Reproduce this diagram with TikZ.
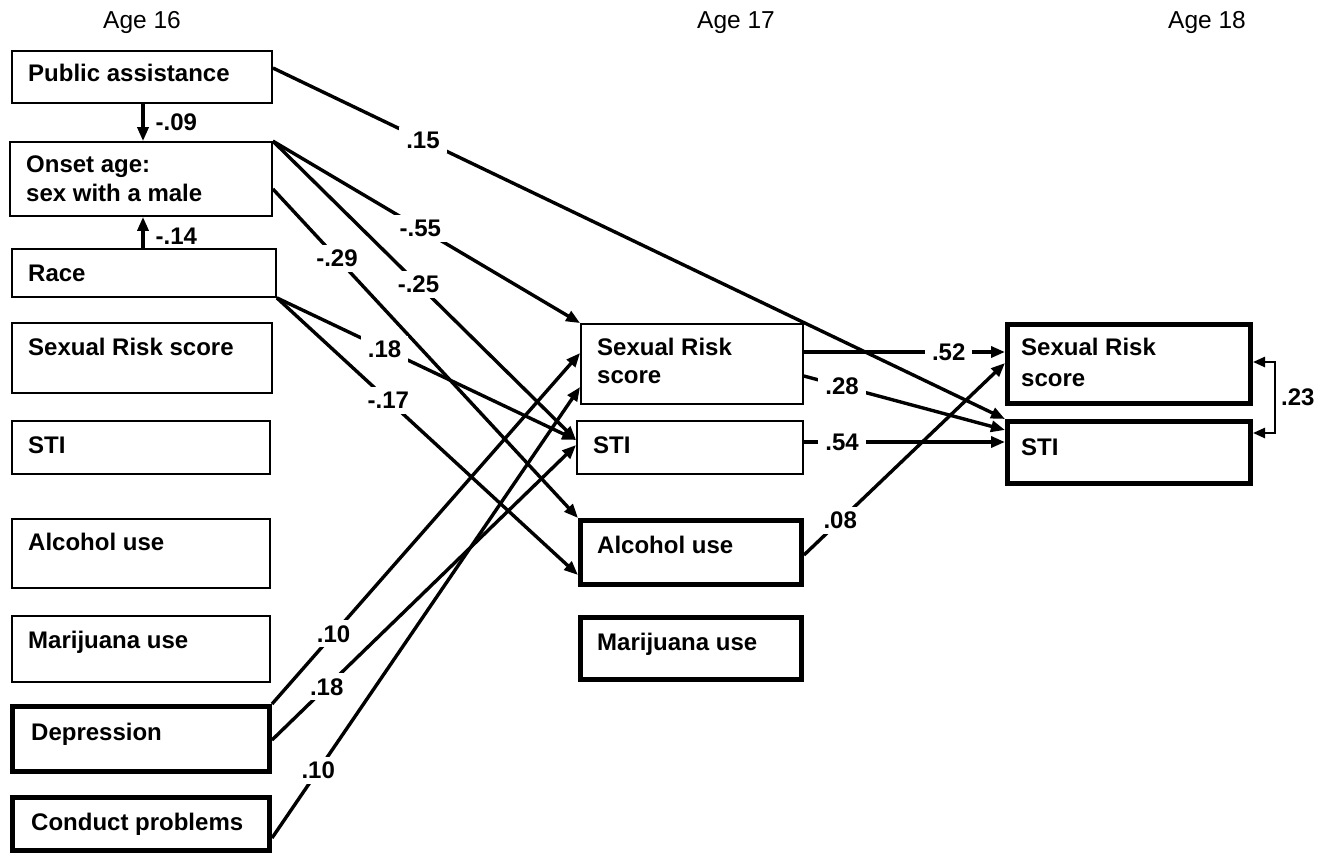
\documentclass[tikz,border=0pt]{standalone}
\usepackage{fontspec}
\setmainfont{Liberation Sans}
\usetikzlibrary{arrows.meta,calc}
\begin{document}
\begin{tikzpicture}[x=1pt,y=-1pt,
  thinbox/.style={draw, line width=1.8pt, inner sep=0pt},
  thickbox/.style={draw, line width=5pt, inner sep=0pt},
  boxtext/.style={anchor=base west, inner sep=0pt, font=\fontsize{24}{28}\selectfont\bfseries},
  hdr/.style={anchor=base, font=\fontsize{24.5}{28}\selectfont},
  arr/.style={line width=3.4pt, -{Triangle[length=14pt,width=11pt]}},
  lab/.style={fill=white, inner xsep=7pt, inner ysep=5pt, font=\fontsize{24}{28}\selectfont\bfseries},
  nolab/.style={fill=none, inner sep=3pt, font=\fontsize{24}{28}\selectfont\bfseries}
]
\fill[white] (0,0) rectangle (1331,856);
\useasboundingbox (0,0) rectangle (1331,856);

% headers
\node[hdr] (h16) at (142,29) {Age 16};
\node[hdr] (h17) at (736,29) {Age 17};
\node[hdr] (h18) at (1207,29) {Age 18};

% left column
\node[thinbox, minimum width=260, minimum height=52] (pa) at (142,77) {};
\node[thinbox, minimum width=262, minimum height=74] (onset) at (141,179) {};
\node[thinbox, minimum width=264, minimum height=48] (race) at (144,273) {};
\node[thinbox, minimum width=260, minimum height=70] (lsr) at (142,358) {};
\node[thinbox, minimum width=258, minimum height=53] (lsti) at (141,447.5) {};
\node[thinbox, minimum width=258, minimum height=69] (lalc) at (141,553.5) {};
\node[thinbox, minimum width=258, minimum height=66] (lmar) at (141,649) {};
\node[thickbox, minimum width=257, minimum height=65] (dep) at (141,739) {};
\node[thickbox, minimum width=257, minimum height=53] (cond) at (141,824) {};

\node[boxtext] (pa-t) at (28,82) {Public assistance};
\node[boxtext] (onset-t1) at (26,173) {Onset age:};
\node[boxtext] (onset-t2) at (26,201) {sex with a male};
\node[boxtext] (race-t) at (28,281) {Race};
\node[boxtext] (lsr-t) at (28,355) {Sexual Risk score};
\node[boxtext] (lsti-t) at (28,453) {STI};
\node[boxtext] (lalc-t) at (28,550) {Alcohol use};
\node[boxtext] (lmar-t) at (28,648) {Marijuana use};
\node[boxtext] (dep-t) at (31,740) {Depression};
\node[boxtext] (cond-t) at (31,830) {Conduct problems};

% middle column
\node[thinbox, minimum width=222, minimum height=80] (msr) at (692,364) {};
\node[thinbox, minimum width=226, minimum height=53] (msti) at (690,447.5) {};
\node[thickbox, minimum width=221, minimum height=64] (malc) at (691,552.5) {};
\node[thickbox, minimum width=221, minimum height=62] (mmar) at (691,648.5) {};

\node[boxtext] (msr-t1) at (597,355) {Sexual Risk};
\node[boxtext] (msr-t2) at (597,383) {score};
\node[boxtext] (msti-t) at (593,453) {STI};
\node[boxtext] (malc-t) at (597,553) {Alcohol use};
\node[boxtext] (mmar-t) at (597,650) {Marijuana use};

% right column
\node[thickbox, minimum width=243, minimum height=79] (rsr) at (1129,364) {};
\node[thickbox, minimum width=243, minimum height=62] (rsti) at (1129,452.5) {};

\node[boxtext] (rsr-t1) at (1021,355) {Sexual Risk};
\node[boxtext] (rsr-t2) at (1021,386) {score};
\node[boxtext] (rsti-t) at (1021,455) {STI};

% connectors
\draw[arr] (pa.south -| 143,0) -- (onset.north -| 143,0)
  node[nolab, midway, anchor=west, xshift=8pt] {-.09};
\draw[arr] (race.north -| 143,0) -- (onset.south -| 143,0)
  node[nolab, midway, anchor=west, xshift=8pt, yshift=-4pt] {-.14};

\draw[arr] (pa.east |- 0,68) -- (rsti.north west) node[lab, pos=.205] {.15};
\draw[arr] (onset.north east) -- (msr.north west) node[lab, pos=.48] {-.55};
\draw[arr] (onset.north east) -- (msti.west |- 0,440) node[lab, pos=.48] {-.25};
\draw[arr] (onset.east |- 0,189) -- (malc.north west) node[lab, pos=.21] {-.29};
\draw[arr] (race.south east) -- (msti.west |- 0,440) node[lab, pos=.36] {.18};
\draw[arr] (race.south east) -- (malc.west |- 0,575) node[lab, pos=.37] {-.17};

\draw[arr] (msr.east |- 0,352) -- (rsr.west |- 0,352) node[lab, pos=.72] {.52};
\draw[arr] (msr.east |- 0,376) -- (rsti.west |- 0,430) node[lab, pos=.19] {.28};
\draw[arr] (msti.east |- 0,442) -- (rsti.west |- 0,442) node[lab, pos=.19] {.54};
\draw[arr] (malc.east |- 0,555) -- (rsr.west |- 0,363) node[lab, pos=.18] {.08};

\draw[arr] (dep.north east) -- (msr.west |- 0,353) node[lab, pos=.2] {.10};
\draw[arr] (dep.east |- 0,740) -- (msti.west |- 0,445) node[lab, pos=.18] {.18};
\draw[arr] (cond.east |- 0,838) -- (msr.west |- 0,387) node[lab, pos=.15] {.10};

\draw[line width=2.4pt, {Triangle[length=12pt,width=10pt]}-{Triangle[length=12pt,width=10pt]}]
  (rsr.east |- 0,362) -- (1275,362) -- (1275,433)
  node[nolab, midway, anchor=west, xshift=2pt] {.23}
  -- (rsti.east |- 0,433);
\end{tikzpicture}
\end{document}
